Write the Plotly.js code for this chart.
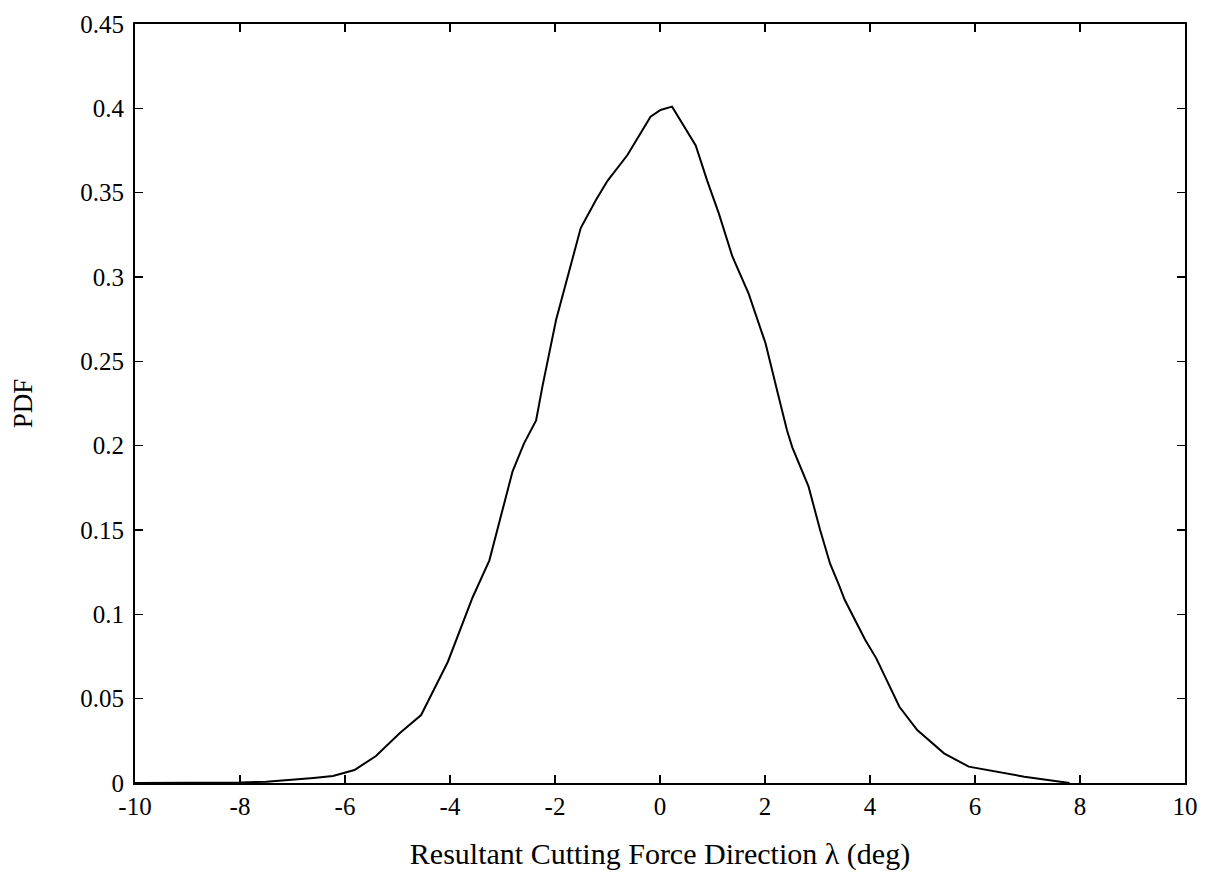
<!DOCTYPE html>
<html>
<head>
<meta charset="utf-8">
<script src="https://cdn.plot.ly/plotly-3.0.1.min.js"></script>
<style>html,body{margin:0;padding:0;background:#fff;}#chart{width:1210px;height:892px;}</style>
</head>
<body>
<div id="chart"></div>
<script>
const lambdaDeg = [-10, -9, -8, -7.5, -7, -6.6, -6.23, -5.98, -5.82, -5.41, -4.96, -4.55, -4.04, -3.57, -3.25, -2.81, -2.59, -2.36, -2.24, -1.98, -1.76, -1.51, -1.22, -1.0, -0.62, -0.18, 0.01, 0.23, 0.68, 0.90, 1.12, 1.38, 1.69, 2.01, 2.26, 2.42, 2.52, 2.83, 3.05, 3.24, 3.40, 3.52, 3.91, 4.12, 4.56, 4.90, 5.41, 5.88, 6.94, 7.8];
const pdfValues = [0, 0, 0.0003, 0.0008, 0.0018, 0.003, 0.0041, 0.0063, 0.0077, 0.0160, 0.0295, 0.0403, 0.0719, 0.110, 0.132, 0.1846, 0.2014, 0.215, 0.235, 0.2745, 0.300, 0.329, 0.3456, 0.357, 0.3723, 0.395, 0.399, 0.401, 0.378, 0.357, 0.3377, 0.312, 0.290, 0.2607, 0.229, 0.209, 0.199, 0.1757, 0.150, 0.130, 0.118, 0.1085, 0.0848, 0.0739, 0.0452, 0.0314, 0.0176, 0.0097, 0.0037, 0];
const xTickVals = [-10, -8, -6, -4, -2, 0, 2, 4, 6, 8, 10];
const xTickText = ['-10', '-8', '-6', '-4', '-2', '0', '2', '4', '6', '8', '10'];
const yTickVals = [0, 0.05, 0.1, 0.15, 0.2, 0.25, 0.3, 0.35, 0.4, 0.45];
const yTickText = ['0', '0.05', '0.1', '0.15', '0.2', '0.25', '0.3', '0.35', '0.4', '0.45'];
const xTitle = 'Resultant Cutting Force Direction λ (deg)';
const yTitle = 'PDF';

const font = 'Liberation Serif, Times New Roman, serif';
const trace = {
  x: lambdaDeg, y: pdfValues, type: 'scatter', mode: 'lines',
  line: {color: '#000', width: 2}, hoverinfo: 'skip'
};
const layout = {
  width: 1210, height: 892,
  margin: {l: 135, r: 25, t: 24, b: 109},
  paper_bgcolor: '#fff', plot_bgcolor: '#fff',
  showlegend: false,
  font: {family: font, color: '#000', size: 22},
  xaxis: {
    range: [-10, 10], tickmode: 'array', tickvals: xTickVals, ticktext: xTickText,
    ticks: 'inside', ticklen: 8, tickwidth: 1.5, tickcolor: '#000',
    showline: true, linecolor: '#000', linewidth: 2, mirror: 'ticks',
    showgrid: false, zeroline: false,
    tickfont: {family: font, size: 25, color: '#000'},
    title: {text: xTitle, font: {family: font, size: 30, color: '#000'}, standoff: 24}
  },
  yaxis: {
    range: [0, 0.45], tickmode: 'array', tickvals: yTickVals, ticktext: yTickText,
    ticks: 'inside', ticklen: 8, tickwidth: 1.5, tickcolor: '#000',
    showline: true, linecolor: '#000', linewidth: 2, mirror: 'ticks',
    showgrid: false, zeroline: false, ticklabelstandoff: 4,
    tickfont: {family: font, size: 25, color: '#000'},
    title: {text: yTitle, font: {family: font, size: 27, color: '#000'}, standoff: 40}
  }
};
Plotly.newPlot('chart', [trace], layout, {staticPlot: true, displayModeBar: false});
</script>
</body>
</html>
